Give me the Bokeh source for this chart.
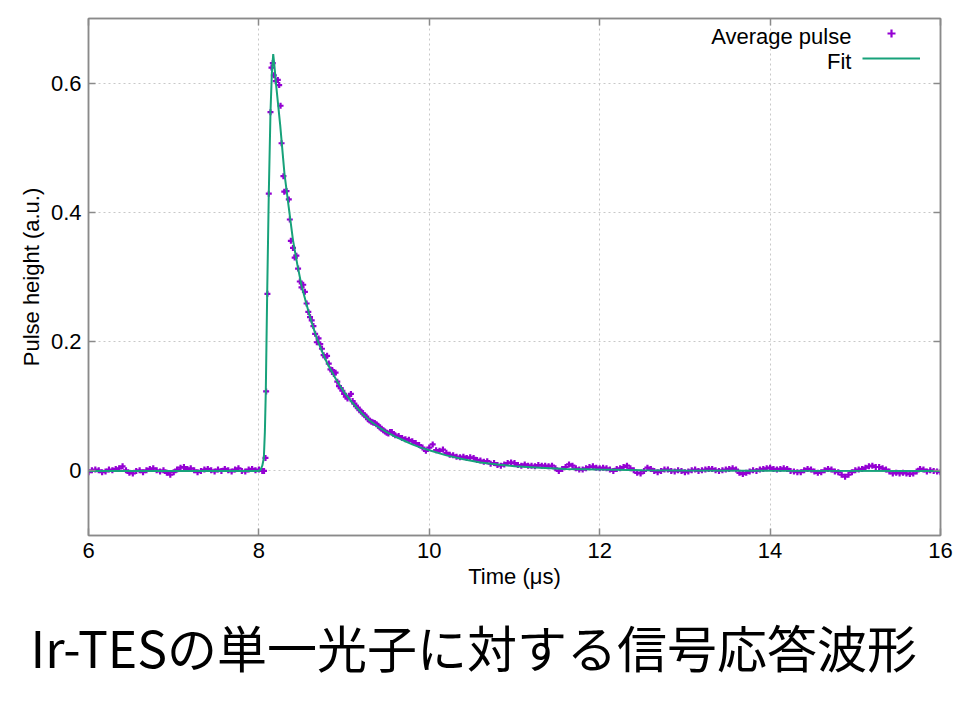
import numpy as np
from bokeh.plotting import figure
from bokeh.models import (ColumnDataSource, Range1d, FixedTicker, LinearAxis, Title,
                          Label, Legend, LegendItem)
from bokeh.embed import file_html
from bokeh.resources import INLINE

# ---------------- data ----------------
x_ticks = [6, 8, 10, 12, 14, 16]
y_ticks = [0, 0.2, 0.4, 0.6]
y_tick_labels = ["0", "0.2", "0.4", "0.6"]

x_label = "Time (μs)"
y_label = "Pulse height (a.u.)"
caption = "Ir-TESの単一光子に対する信号応答波形"
series_names = ["Average pulse", "Fit"]

# Average pulse: baseline before the pulse (t = 6.00 ... 8.04, step 0.04)
pre_start, pre_step = 6.00, 0.04
pre_y = [-0.002, 0.001, 0.002, 0.001, -0.002, -0.001, 0.002, 0.001, 0.003, 0.004,
         0.007, 0.001, -0.003, -0.004, 0.000, 0.001, -0.002, 0.001, 0.003, 0.004,
         0.001, -0.001, 0.001, -0.003, -0.006, -0.002, 0.002, 0.005, 0.006, 0.003,
         0.004, 0.001, -0.002, 0.000, 0.002, 0.003, 0.001, -0.001, 0.002, 0.000,
         0.003, 0.001, -0.001, 0.002, 0.004, 0.000, -0.001, 0.002, 0.003, 0.001,
         0.002, 0.000]

# Average pulse: rising edge and peak (explicit times)
peak_t = [8.060, 8.077, 8.085, 8.100, 8.116, 8.136, 8.148, 8.163, 8.175, 8.198,
          8.222, 8.238, 8.254, 8.266, 8.288, 8.298, 8.324, 8.351, 8.363, 8.375]
peak_y = [0.000, 0.020, 0.123, 0.274, 0.429, 0.555, 0.624, 0.631, 0.612, 0.603,
          0.605, 0.597, 0.565, 0.507, 0.456, 0.432, 0.433, 0.420, 0.389, 0.356]

# Average pulse: fast decay (t = 8.40 ... 9.60, step 0.02)
decay_start, decay_step = 8.40, 0.02
decay_y = [0.345, 0.330, 0.333, 0.313, 0.293, 0.284, 0.288, 0.277, 0.259, 0.246,
           0.238, 0.233, 0.224, 0.212, 0.199, 0.205, 0.196, 0.189, 0.179, 0.176,
           0.178, 0.166, 0.157, 0.156, 0.150, 0.152, 0.138, 0.131, 0.128, 0.124,
           0.119, 0.115, 0.112, 0.116, 0.119, 0.108, 0.104, 0.100, 0.098, 0.094,
           0.092, 0.089, 0.086, 0.084, 0.080, 0.078, 0.076, 0.075, 0.074, 0.072,
           0.070, 0.067, 0.065, 0.063, 0.061, 0.059, 0.058, 0.060, 0.060, 0.057,
           0.055]

# Average pulse: tail (t = 9.64 ... 16.00, step 0.04)
tail_start, tail_step = 9.64, 0.04
tail_y = [0.054, 0.051, 0.049, 0.048, 0.046, 0.043, 0.040, 0.036, 0.031, 0.036,
          0.041, 0.032, 0.031, 0.033, 0.028, 0.025, 0.024, 0.022, 0.021, 0.022,
          0.020, 0.021, 0.020, 0.017, 0.016, 0.014, 0.015, 0.011, 0.012, 0.009,
          0.008, 0.010, 0.012, 0.013, 0.012, 0.009, 0.008, 0.010, 0.008, 0.008,
          0.007, 0.009, 0.008, 0.008, 0.007, 0.008, 0.004, 0.000, 0.003, 0.006,
          0.010, 0.008, 0.004, 0.002, 0.002, 0.004, 0.006, 0.007, 0.005, 0.004,
          0.005, 0.004, 0.002, 0.000, 0.003, 0.004, 0.006, 0.008, 0.004, 0.001,
          -0.003, -0.004, 0.000, 0.005, 0.003, 0.000, -0.002, 0.000, 0.002, 0.002,
          0.000, -0.001, 0.001, 0.000, -0.002, -0.001, 0.001, 0.002, 0.000, 0.001,
          0.002, 0.003, 0.003, 0.001, 0.000, 0.001, 0.002, 0.003, 0.004, 0.002,
          -0.003, -0.005, -0.003, -0.001, 0.001, 0.000, 0.002, 0.003, 0.004, 0.005,
          0.003, 0.002, 0.003, 0.004, 0.003, 0.000, -0.001, -0.002, -0.002, 0.001,
          0.003, 0.002, -0.001, -0.003, -0.002, 0.001, 0.003, 0.002, -0.001, -0.002,
          -0.006, -0.009, -0.006, -0.002, 0.001, 0.002, 0.003, 0.005, 0.007, 0.008,
          0.006, 0.006, 0.004, 0.002, -0.001, -0.004, -0.003, -0.004, -0.003, -0.004,
          -0.005, -0.004, -0.001, 0.003, 0.002, -0.001, 0.001, 0.000, -0.001, -0.002]

# Fit curve
fit_t = [6.00, 8.00, 8.02, 8.04, 8.058, 8.07, 8.081, 8.097, 8.116, 8.136, 8.152,
         8.168, 8.18, 8.20, 8.25, 8.30, 8.35, 8.40, 8.45, 8.50, 8.55, 8.60, 8.65,
         8.70, 8.75, 8.80, 8.85, 8.90, 8.95, 9.00, 9.10, 9.20, 9.30, 9.40, 9.50,
         9.60, 9.70, 9.80, 9.90, 10.0, 10.2, 10.4, 10.6, 10.8, 11.0, 11.3, 11.6,
         12.0, 12.5, 13.0, 14.0, 16.0]
fit_y = [0.000, 0.000, 0.002, 0.008, 0.020, 0.060, 0.123, 0.273, 0.429, 0.555, 0.615,
         0.645, 0.630, 0.600, 0.535, 0.460, 0.408, 0.357, 0.320, 0.287, 0.262, 0.238,
         0.217, 0.198, 0.182, 0.167, 0.155, 0.143, 0.132, 0.122, 0.105, 0.090, 0.078,
         0.068, 0.060, 0.053, 0.047, 0.041, 0.036, 0.032, 0.024, 0.018, 0.013, 0.010,
         0.007, 0.005, 0.003, 0.002, 0.001, 0.0005, 0.0002, 0.000]

# ---------------- assemble ----------------
pre_t = [pre_start + pre_step * i for i in range(len(pre_y))]
decay_t = [decay_start + decay_step * i for i in range(len(decay_y))]
tail_t = [tail_start + tail_step * i for i in range(len(tail_y))]
pulse_t = pre_t + peak_t + decay_t + tail_t
pulse_y = pre_y + peak_y + decay_y + tail_y

pulse_src = ColumnDataSource(dict(t=pulse_t, y=pulse_y))
fit_src = ColumnDataSource(dict(t=fit_t, y=fit_y))

GRAY = "#8a8a8a"
FONT = "Liberation Sans"
PURPLE = "#9400d3"
GREEN = "#17a27a"

p = figure(width=966, height=706, x_range=Range1d(6, 16), y_range=Range1d(-0.1, 0.7),
           output_backend="svg", toolbar_location=None,
           min_border_left=88, min_border_right=26, min_border_top=18, min_border_bottom=171,
           background_fill_color="white", border_fill_color="white",
           outline_line_color=GRAY, outline_line_width=1.5)
p.title.visible = False

pulse_r = p.scatter("t", "y", source=pulse_src, marker="cross", size=6,
                    line_color=PURPLE, line_width=2.2)
fit_r = p.line("t", "y", source=fit_src, line_color=GREEN, line_width=2)

# main axes
xa = p.xaxis[0]
xa.ticker = FixedTicker(ticks=x_ticks)
ya = p.yaxis[0]
ya.ticker = FixedTicker(ticks=y_ticks)
ya.major_label_overrides = {t: l for t, l in zip(y_ticks, y_tick_labels)}
for ax, lab in ((xa, x_label), (ya, y_label)):
    ax.axis_label = lab
    ax.axis_line_color = GRAY
    ax.axis_line_width = 1.5
    ax.major_tick_line_color = GRAY
    ax.major_tick_line_width = 1.5
    ax.major_tick_in = 7
    ax.major_tick_out = 0
    ax.minor_tick_line_color = None
    ax.major_label_text_font = FONT
    ax.major_label_text_font_size = "22px"
    ax.major_label_text_color = "black"
    ax.axis_label_text_font = FONT
    ax.axis_label_text_font_size = "22px"
    ax.axis_label_text_font_style = "normal"
    ax.axis_label_text_color = "black"
xa.major_label_standoff = 7
xa.axis_label_standoff = 3
ya.major_label_standoff = 7
ya.axis_label_standoff = 4

# mirrored ticks on top and right (no labels drawn)
for loc, ticks in (("above", x_ticks), ("right", y_ticks)):
    ax2 = LinearAxis(ticker=FixedTicker(ticks=ticks), major_label_text_font_size="1px",
                     major_label_text_color=None,
                     major_label_standoff=0, major_tick_in=7, major_tick_out=0,
                     major_tick_line_color=GRAY, major_tick_line_width=1.5,
                     minor_tick_line_color=None, axis_line_color=GRAY, axis_line_width=1.5)
    p.add_layout(ax2, loc)

# grid
p.xgrid.ticker = FixedTicker(ticks=x_ticks)
p.ygrid.ticker = FixedTicker(ticks=y_ticks)
for g in (p.xgrid, p.ygrid):
    g.grid_line_color = "#c8c8c8"
    g.grid_line_dash = "2 3"
    g.grid_line_width = 1

# legend: samples on the right, texts right-aligned to their left (gnuplot style)
legend = Legend(items=[LegendItem(label="", renderers=[pulse_r]),
                       LegendItem(label="", renderers=[fit_r])],
                location=(774, 467), orientation="vertical", padding=0, margin=0,
                glyph_width=58, glyph_height=20, spacing=5, label_width=0,
                label_standoff=0, border_line_color=None, background_fill_alpha=0)
p.add_layout(legend)
for name, yy in zip(series_names, (0.6725, 0.633)):
    p.add_layout(Label(x=14.955, y=yy, text=name, text_align="right",
                       text_baseline="middle", text_font=FONT, text_font_size="22px",
                       text_color="black"))

# caption below the chart
cap = Title(text=caption, align="left", offset=-58, text_font="Noto Sans CJK JP",
            text_font_size="50px", text_font_style="normal", text_color="black",
            standoff=33)
p.add_layout(cap, "below")

open("out.html", "w").write(file_html(p, INLINE))
